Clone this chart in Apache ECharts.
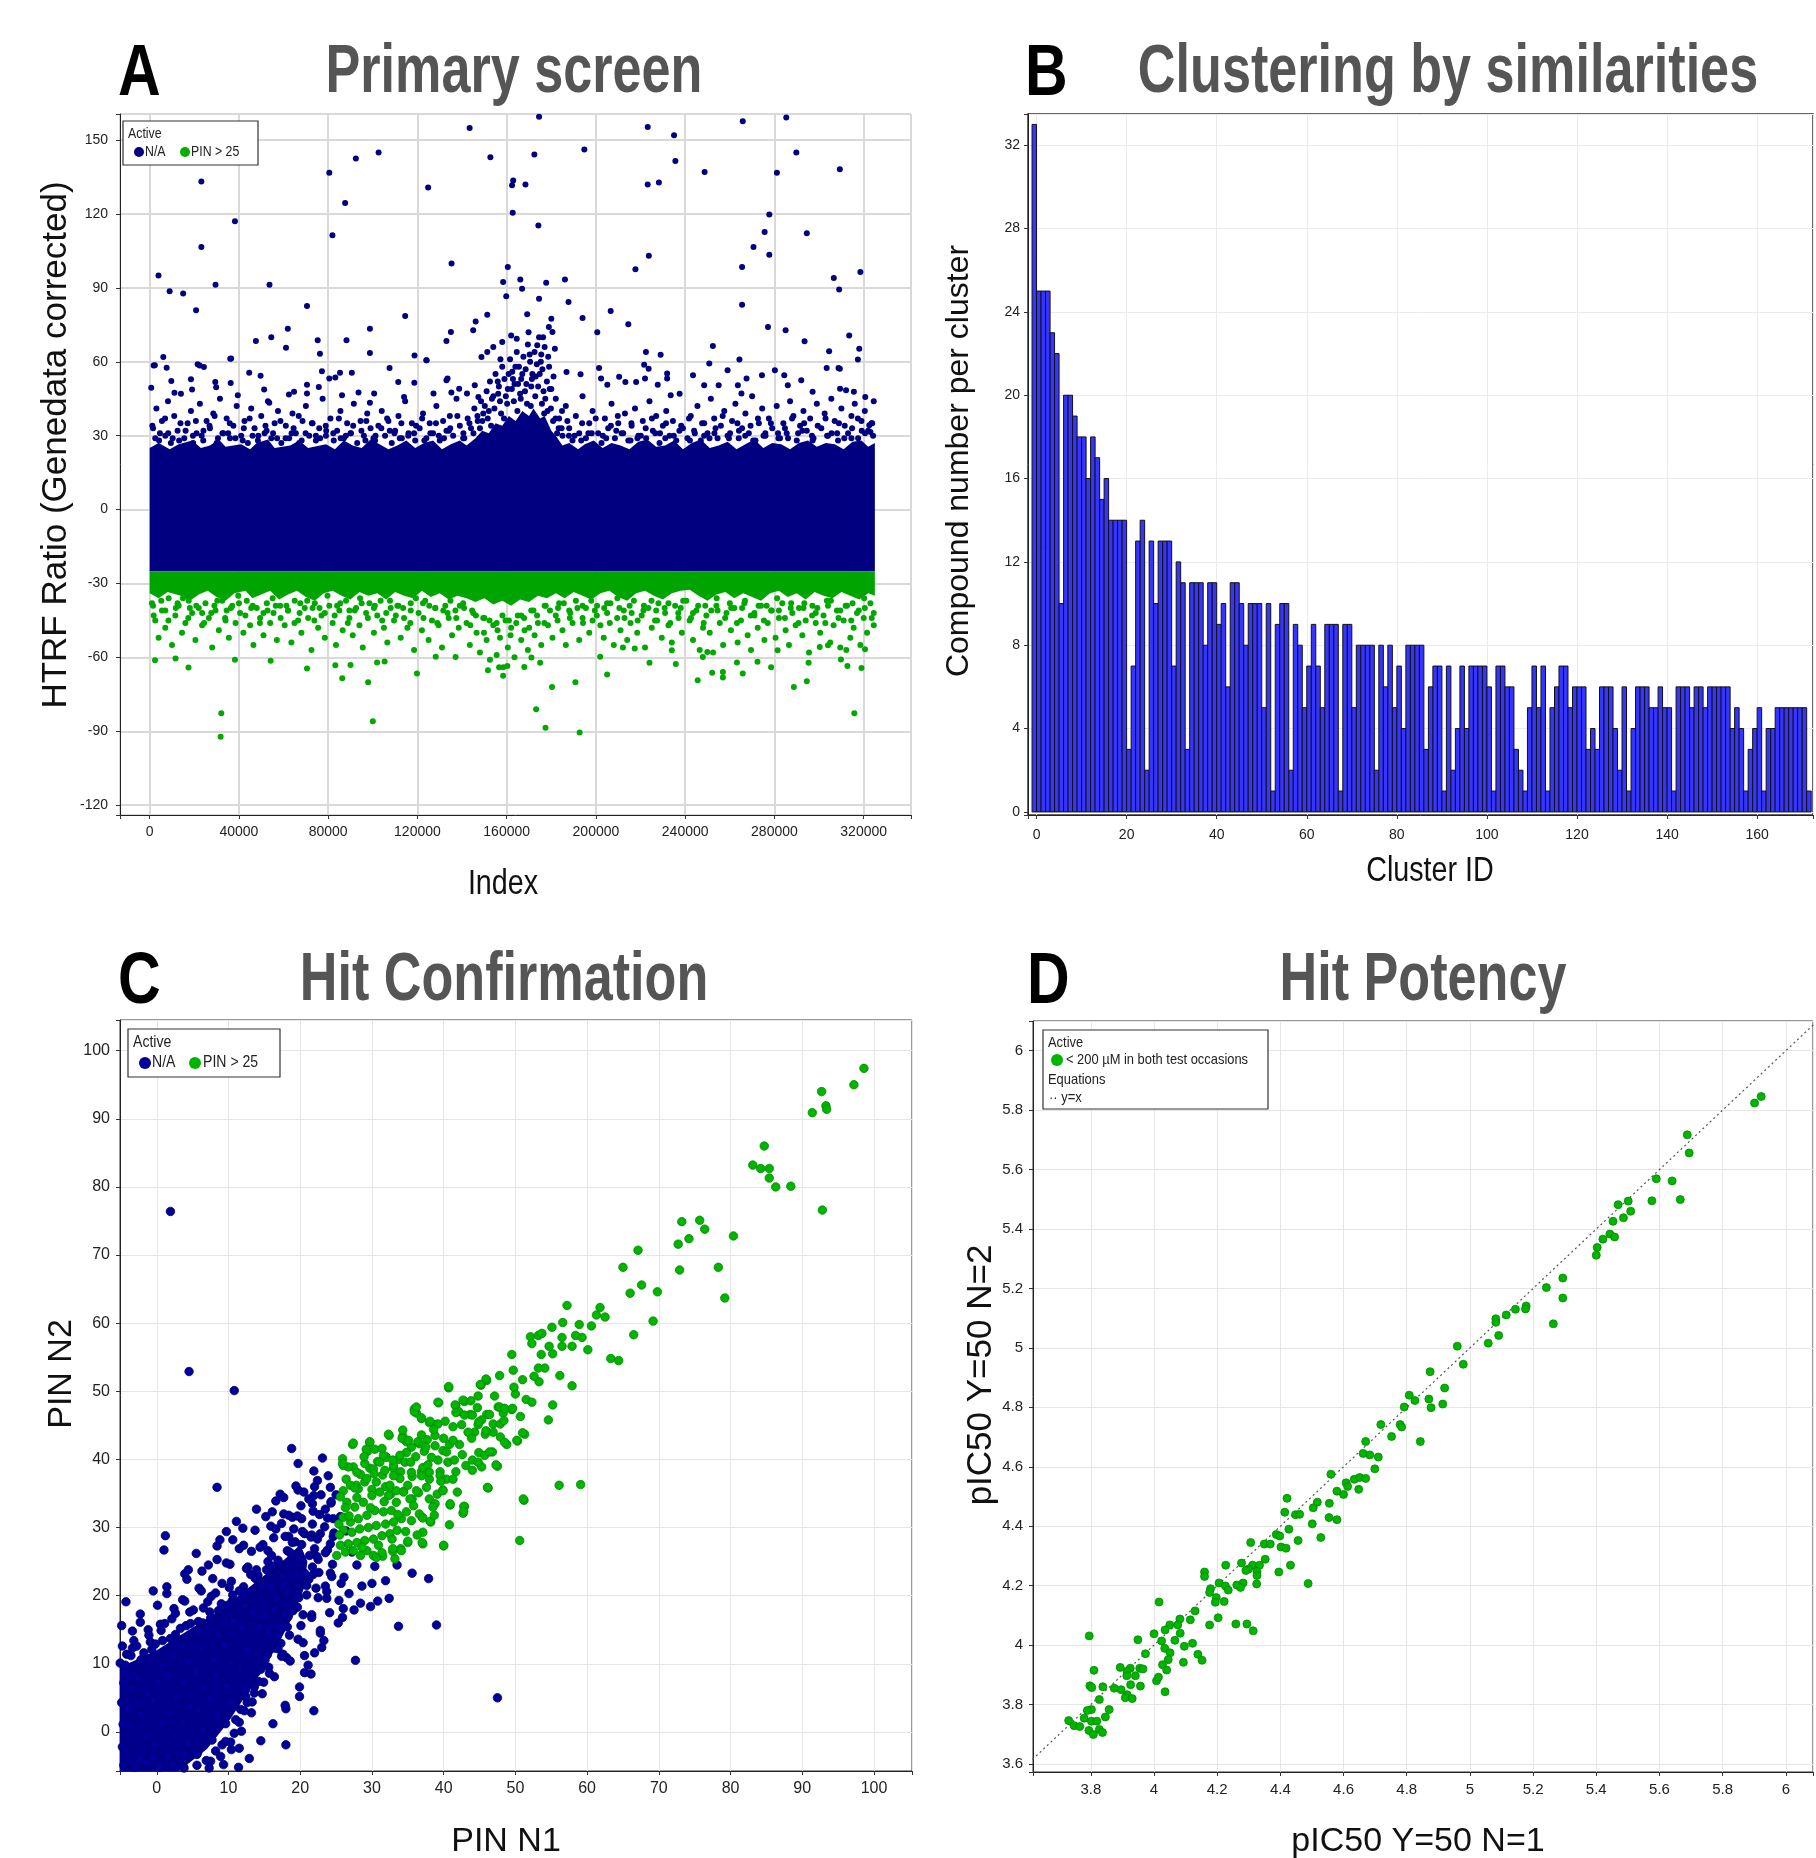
<!DOCTYPE html>
<html>
<head>
<meta charset="utf-8">
<script src="https://cdn.jsdelivr.net/npm/echarts@6/dist/echarts.min.js"></script>
<style>
  html, body { margin: 0; padding: 0; background: #fff; }
  #chart { width: 1816px; height: 1858px; }
</style>
</head>
<body>
<div id="chart"></div>
<script>
// ---------- A: primary screen ----------
const primaryXTicks = [0, 40000, 80000, 120000, 160000, 200000, 240000, 280000, 320000];
const primaryXLabels = ['0', '40000', '80000', '120000', '160000', '200000', '240000', '280000', '320000'];
const primaryYTicks = [-120, -90, -60, -30, 0, 30, 60, 90, 120, 150];
const primaryYLabels = ['-120', '-90', '-60', '-30', '0', '30', '60', '90', '120', '150'];
const primaryCut = -25; // PIN > 25 threshold on the ratio axis

// upper edge of the solid N/A band
const primaryNaEdge = [[0,25],[4000,27],[9000,24.5],[13000,26.5],[19000,28],[23000,25],[27000,26],[31000,28.5],[34000,25.5],[41000,26.5],[45000,24.5],[48000,27],[53000,28.5],[56000,25],[63000,26],[67000,28],[71000,25],[79000,26.5],[83000,24.5],[87000,28],[91000,26],[95000,25],[99000,28.5],[103000,26.5],[107000,24.5],[111000,26],[115000,28],[119000,25],[123000,27],[127000,28],[131000,24.5],[135000,26.5],[139000,28],[142000,26],[146000,29],[149000,32],[152000,31],[155000,35],[158000,34],[161000,38],[164000,36],[167000,40],[170000,38],[172000,41],[175000,37],[177000,38],[180000,32],[182000,30],[185000,26],[188000,27],[192000,24.5],[195000,26.5],[199000,28],[203000,25],[207000,27],[211000,26],[215000,24.5],[219000,27.5],[223000,28.5],[227000,25.5],[231000,26],[235000,28],[239000,24.5],[243000,27],[247000,28.5],[251000,25],[255000,26],[259000,27.5],[263000,24.5],[267000,26.5],[271000,28.5],[275000,25],[279000,27],[283000,26.5],[287000,24.5],[291000,27],[295000,28],[299000,25.5],[303000,27],[307000,26.5],[311000,24.5],[315000,27.5],[319000,28],[322000,25.5],[325000,27]];
// lower edge of the solid PIN > 25 band
const primaryPinEdge = [[0,-34],[4000,-36],[8000,-33.5],[14000,-35],[18000,-37],[22000,-34.5],[26000,-33],[30000,-35.5],[34000,-37],[38000,-34],[43000,-33],[46000,-36],[50000,-34.5],[54000,-33],[58000,-36.5],[62000,-34.5],[66000,-33],[70000,-35.5],[74000,-37],[78000,-34],[82000,-33],[86000,-35],[90000,-36.5],[94000,-33.5],[98000,-35],[102000,-34],[106000,-36.5],[110000,-33.5],[114000,-35],[118000,-36],[122000,-33],[126000,-35.5],[130000,-34],[134000,-36.5],[138000,-35],[142000,-36],[146000,-37.5],[150000,-36],[154000,-38.5],[158000,-37],[162000,-39],[166000,-36.5],[170000,-37.5],[174000,-35],[178000,-36],[182000,-34],[186000,-36],[190000,-33.5],[194000,-35],[198000,-36.5],[202000,-34],[206000,-33],[210000,-35.5],[214000,-37],[218000,-34],[222000,-33],[226000,-35],[230000,-36.5],[234000,-34],[238000,-33],[242000,-32.5],[246000,-35],[250000,-37],[254000,-34.5],[258000,-33.5],[262000,-36],[266000,-34],[270000,-35.5],[274000,-37],[278000,-34],[282000,-33],[286000,-35.5],[290000,-34],[294000,-36.5],[298000,-33.5],[302000,-35],[306000,-36],[310000,-33.5],[314000,-35],[318000,-36.5],[322000,-34],[325000,-35]];

const primaryNaPoints = [
  [3950,95],[8950,88.6],[15000,87.7],[20800,80.9],[23160,133.2],[23160,106.6],[29500,91.3],[38200,117.1],[53700,91.3],[70500,82.7],[80500,136.7],[81900,111.4],[87600,124.5],[92400,142.5],[102600,145],[114500,78.6],[124800,130.8],[135300,99.9],[143400,154.9],[152700,143],[160500,98.5],[162400,131.7],[162900,133.6],[162700,120.5],[168400,132],[172400,144.2],[174200,115.3],[174500,159.5],[194800,146.2],[186100,93.4],[223200,155.3],[223200,132],[228200,132.8],[223700,103.1],[217700,97.6],[235000,152],[235600,141.5],[248700,137.1],[265800,157.7],[265500,98.5],[265500,83.2],[270600,106.6],[275600,112.7],[277700,119.8],[277700,103.5],[281100,136.7],[285300,159.2],[289800,145],[294500,112.2],[309300,138.2],[306600,94],[309000,89.3],[318500,96.5],
  [206600,80.6],[214500,75.2],[200600,72],[194000,77.8],[187700,84.3],[277100,74.1],[285000,72.8],[313500,70.7],[293500,68.3],[304500,64.3],[318000,65.3],[309300,57.2],[252400,66.4],[229000,62.9],[135000,72.1],[133000,68.4],[98700,73.4],[98700,63.6],[88200,68.7],[75300,68.7],[61900,73.4],[61100,65.7],[54500,70],[47600,68.4],[76300,63.3],[118700,62.6],[124000,60.6],[36100,61.2],[6100,61.9],[1800,58.5],[22400,58.5],
  [146100,76.4],[145000,72.8],[151300,79.1],[159800,86.6],[166100,93.4],[158400,92.4],[166900,89.7],[169200,79.3],[174500,85.6],[177700,92.1],[180000,77.5],[178900,74.1],[180500,72.1],[158000,68],[162000,70.7],[164500,69.4],[169800,72],[173700,66.7],[176300,70],[181600,65.3],[151300,64],[154000,66],[148700,61.9],[221600,58.8],[222400,64],
  [2300,58.6],[7600,57.6],[700,49.5],[9700,52.2],[11100,47.4],[18500,52.9],[19000,48.7],[21500,59],[24300,57.9],[29400,51.8],[29800,49.7],[36500,61.3],[36300,51.4],[39500,46.4],[44600,55.5],[49700,54.3],[51300,48.7],[53600,43.4],[62400,46.7],[64700,47.8],[70500,50.7],[70500,47.1],[75800,49.8],[77200,56.2],[80500,53.2],[83200,53.6],[85300,55.5],[90600,55.5],[86200,46.4],[93600,47.5],[98700,43.4],[100600,47.1],[107500,57.5],[111400,51.8],[114000,45.7],[118600,51.5],[124100,60.6],[127200,47.1],[133000,52.5],[133500,53.2],[135200,47.5],[138700,49.1],[142200,47.1],[145700,50.5],[147300,45.7],[186800,55.9],[193100,54.9],[201400,57.5],[202300,53.2],[205100,50.7],[210400,53.9],[213200,51.8],[218000,51.8],[222000,53.2],[223600,57.2],[231900,55.2],[231900,53.2],[227700,50.7],[233500,46.4],[243500,54.5],[248500,50.5],[250800,59.3],[255000,50.5],[259000,56.6],[264300,60.9],[263600,50.5],[265200,47.1],[267500,53.2],[274400,54.5],[280200,56.6],[284400,54.5],[286000,50.5],[292000,52.5],[297100,47.8],[303400,57.5],[308700,57.5],[309400,49.1],[312100,48.4],[315600,47.8],[317400,60.9],[320700,45.7],[322500,34.2],[323000,31.5],
  [1500,33],[3000,41],[4200,28],[5500,36],[7000,30],[8200,44],[9500,27],[11000,38],[12500,32],[14000,47],[15500,29],[17000,35],[18500,40],[19500,27],
  [21000,31],[22500,43],[24000,28],[25500,36],[27000,33],[28500,39],[30000,27],[31500,45],[33000,31],[34500,37],[36000,29],[37500,34],[39000,42],
  [41000,30],[42500,36],[44000,27],[45500,41],[47000,33],[48500,28],[50000,38],[51500,31],[53000,44],[54500,29],[56000,35],[57500,40],[59000,27],
  [61000,34],[62500,29],[64000,39],[65500,31],[67000,27],[68500,36],[70000,42],[71500,30],[73000,35],[74500,28],[76000,33],[77500,45],[79000,30],
  [81000,37],[82500,28],[84000,32],[85500,40],[87000,29],[88500,35],[90000,31],[91500,43],[93000,27],[94500,36],[96000,30],[97500,39],[99000,33],
  [101000,28],[102500,34],[104000,40],[105500,30],[107000,36],[108500,27],[110000,32],[111500,38],[113000,29],[114500,44],[116000,31],[117500,35],[119000,28],
  [121000,33],[122500,39],[124000,29],[125500,35],[127000,31],[128500,42],[130000,28],[131500,36],[133000,32],[134500,38],[136000,30],[137500,45],[139000,34],
  [141000,29],[142500,37],[144000,33],[145500,41],[147000,36],[148500,44],[149500,39],
  [151000,48],[152500,52],[154000,46],[155000,55],[156500,50],[158000,58],[159000,53],[160500,49],[161500,61],[162500,56],[163500,51],[164500,64],[165500,58],[166500,53],[167500,62],[168500,57],[169500,67],[170500,60],[171500,55],[172500,64],[173500,59],[174500,70],[175500,63],[176000,57],[177000,66],[178000,52],[179000,58],[180000,49],[181000,54],[182000,45],[157000,44],[166000,47],[171000,50],[176500,48],
  [150200,42],[153400,45],[156200,47],[159600,46],[162300,49],[165100,51],[168200,48],[171300,53],[174100,50],[177300,45],[179800,41],[181900,37],[149100,36],[152000,40],[183300,33],[184800,40],[160900,55],[167000,55],[173000,54],[163900,58],[170300,63],[157200,61],[175300,60],[178600,62],
  [151500,37],[154500,41],[157500,39],[160200,43],[163200,44],[166300,45],[169100,43],[172800,46],[175800,43],[178300,40],[180800,36],[153000,34],[158800,37],[164800,40],[170800,42],[176800,39],[182600,31],[148000,33],[156000,52],[162800,53],[168800,51],[174800,55],[179300,49],
  [183500,37],[185000,30],[186500,42],[188000,33],[189500,28],[191000,38],[192500,31],[194000,46],[195500,29],[197000,35],[198500,40],
  [201000,31],[202500,27],[204000,37],[205500,33],[207000,43],[208500,29],[210000,35],[211500,31],[213000,39],[214500,28],[216000,34],[217500,41],[219000,30],
  [221000,36],[222500,29],[224000,44],[225500,32],[227000,38],[228500,27],[230000,34],[231500,40],[233000,30],[234500,36],[236000,28],[237500,47],[239000,33],
  [241000,29],[242500,38],[244000,32],[245500,42],[247000,28],[248500,35],[250000,31],[251500,45],[253000,37],[254500,29],[256000,34],[257500,40],[259000,30],
  [261000,36],[262500,43],[264000,29],[265500,33],[267000,39],[268500,31],[270000,46],[271500,28],[273000,35],[274500,41],[276000,30],[277500,37],[279000,33],
  [281000,42],[282500,29],[284000,35],[285500,31],[287000,44],[288500,38],[290000,28],[291500,34],[293000,40],[294500,32],[296000,37],[297500,29],[299000,43],
  [301000,33],[302500,39],[304000,30],[305500,45],[307000,36],[308500,28],[310000,41],[311500,34],[313000,31],[314500,38],[316000,43],[317500,29],[319000,36],[320500,40],[322000,32],[323500,35],[324500,44],
  [2500,29],[8300,31],[13200,28],[19400,30],[24100,32],[30600,29],[35200,31],[41700,28],[46100,30],[52400,32],[57100,29],[63600,31],[68100,28],[74500,30],[79100,32],[85600,29],[90200,31],[96700,28],[101200,30],[107600,32],[112100,29],[118500,31],[123100,28],[129600,30],[134100,32],[140500,29],[145100,31],[187900,30],[193400,28],[198100,31],[204600,29],[209100,32],[215500,28],[220100,30],[226600,31],[231100,29],[237400,32],[242100,28],[248500,30],[253100,31],[259600,29],[264100,32],[270500,28],[275100,30],[281600,31],[286100,29],[292500,32],[297100,28],[303600,30],[308100,31],[314500,29],[319100,32],[324200,30],
  [1200,34],[4600,31],[6900,37],[10300,29],[13800,35],[16100,32],[20700,36],[23300,30],[26800,34],[29100,38],[32600,31],[35900,35],[38400,29],[42200,33],[44800,37],[48700,30],[51900,34],[55300,31],[58600,36],[60900,29],[64500,33],[66800,38],[69900,31],[72700,35],[76400,29],[78900,34],[82300,31],[84800,37],[87900,30],[91200,34],[94900,32],[97100,36],[100300,29],[103800,33],[106400,37],[109700,31],[112800,35],[115900,30],[119400,34],[122100,37],[125800,31],[128300,35],[131900,29],[134700,33],[137900,38],[140600,31],[143300,35],[146900,38],[184600,33],[187200,36],[190400,30],[193800,35],[196600,31],[199900,37],[203100,30],[206700,34],[209800,38],[212200,31],[215900,35],[218600,29],[222300,33],[225100,37],[228700,31],[231400,35],[234900,30],[238200,34],[241700,37],[244300,31],[247600,35],[250900,29],[253600,33],[256800,38],[260100,31],[263400,35],[266900,30],[269300,34],[272600,37],[275900,31],[278400,35],[281800,29],[284700,33],[287900,37],[290600,31],[293300,35],[296800,30],[299400,34],[302900,37],[305600,31],[308900,35],[311300,29],[314800,33],[317400,37],[320600,31],[323800,35]
];

const primaryPinPoints = [
  [32100,-82.7],[31800,-92.2],[100000,-85.9],[173200,-81.1],[177400,-88.6],[192700,-90.5],[315800,-82.7],[180300,-72],[190800,-70.1],[288700,-72],[294500,-69.7],[245600,-69.3],[252100,-66.2],[256900,-68.2],[256900,-65.9],[265800,-66.6],[205000,-67],[224000,-62.2],[235800,-62.7],[278500,-64],[295300,-62.2],[312700,-63.5],[319000,-64.3],[309800,-60.9],[272400,-61.8],[263200,-62.1],[247900,-59.9],[201900,-59.8],[119800,-66.6],[86300,-68.5],[97900,-70.1],[70500,-64.5],[17400,-64.1],[54200,-61.4],[101900,-62.1],[105300,-61.7],[151600,-65.2],[158400,-67.5],[167900,-63.9],[175000,-62.2],[171100,-60.1],[156600,-64],[160300,-63.5],[83200,-63.2],[90000,-63.1],[38200,-61],[2400,-61.2],[11600,-60.5],[128200,-59.8],[137100,-59.9],[212100,-56],[217400,-56.4],[234000,-57.1],[249900,-57.8],[281400,-57.1],[300300,-55.8],[304000,-55.1],[320600,-56.7],[312200,-57],
  [1000,-38],[2500,-45],[4000,-52],[5500,-41],[7000,-48],[8500,-36],[10000,-55],[11500,-43],[13000,-39],[14500,-50],[16000,-46],[17500,-37],[19000,-42],
  [20500,-53],[22000,-40],[23500,-47],[25000,-38],[26500,-44],[28000,-56],[29500,-41],[31000,-49],[32500,-37],[34000,-45],[35500,-52],[37000,-39],[38500,-46],
  [40500,-42],[42000,-50],[43500,-37],[45000,-47],[46500,-55],[48000,-40],[49500,-44],[51000,-51],[52500,-38],[54000,-46],[55500,-42],[57000,-53],[58500,-39],
  [60500,-47],[62000,-41],[63500,-54],[65000,-37],[66500,-45],[68000,-50],[69500,-40],[71000,-44],[72500,-57],[74000,-38],[75500,-48],[77000,-43],[78500,-52],
  [80500,-39],[82000,-46],[83500,-55],[85000,-41],[86500,-49],[88000,-37],[89500,-44],[91000,-51],[92500,-40],[94000,-47],[95500,-56],[97000,-42],[98500,-38],
  [100500,-50],[102000,-43],[103500,-37],[105000,-48],[106500,-54],[108000,-40],[109500,-45],[111000,-39],[112500,-52],[114000,-44],[115500,-48],[117000,-38],[118500,-57],
  [120500,-42],[122000,-49],[123500,-37],[125000,-53],[126500,-45],[128000,-40],[129500,-47],[131000,-56],[132500,-39],[134000,-44],[135500,-51],[137000,-41],[138500,-48],
  [140500,-38],[142000,-46],[143500,-55],[145000,-42],[146500,-50],[148000,-58],[149500,-44],[151000,-53],[152500,-61],[154000,-47],[155500,-59],[157000,-52],[158500,-64],[159500,-45],
  [160500,-56],[162000,-48],[163500,-60],[165000,-43],[166500,-53],[168000,-49],[169500,-57],[171000,-41],[172500,-51],[174000,-46],[175500,-55],[177000,-39],[178500,-47],
  [180500,-52],[182000,-43],[183500,-38],[185000,-49],[186500,-55],[188000,-41],[189500,-46],[191000,-37],[192500,-53],[194000,-44],[195500,-40],[197000,-50],[198500,-45],
  [200500,-39],[202000,-47],[203500,-52],[205000,-42],[206500,-38],[208000,-55],[209500,-44],[211000,-49],[212500,-41],[214000,-53],[215500,-46],[217000,-37],[218500,-50],
  [220500,-43],[222000,-56],[223500,-40],[225000,-48],[226500,-45],[228000,-38],[229500,-52],[231000,-42],[232500,-47],[234000,-54],[235500,-39],[237000,-44],[238500,-50],
  [240500,-37],[242000,-45],[243500,-53],[245000,-41],[246500,-57],[248000,-48],[249500,-43],[251000,-50],[252500,-58],[254000,-39],[255500,-46],[257000,-55],[258500,-42],
  [260500,-49],[262000,-40],[263500,-54],[265000,-45],[266500,-38],[268000,-51],[269500,-57],[271000,-43],[272500,-48],[274000,-39],[275500,-53],[277000,-46],[278500,-41],
  [280500,-52],[282000,-44],[283500,-38],[285000,-49],[286500,-55],[288000,-42],[289500,-47],[291000,-40],[292500,-51],[294000,-45],[295500,-58],[297000,-39],[298500,-46],
  [300500,-50],[302000,-43],[303500,-37],[305000,-54],[306500,-47],[308000,-41],[309500,-56],[311000,-45],[312500,-39],[314000,-52],[315500,-48],[317000,-42],[318500,-55],[320000,-44],[321500,-50],[323000,-38],[324500,-47],
  [1500,-39],[7000,-41],[12500,-38],[18000,-40],[23500,-42],[29000,-39],[34500,-41],[40000,-38],[45500,-40],[51000,-42],[56500,-39],[62000,-41],[67500,-38],[73000,-40],[78500,-42],[84000,-39],[89500,-41],[95000,-38],[100500,-40],[106000,-42],[111500,-39],[117000,-41],[122500,-38],[128000,-40],[133500,-42],[139000,-39],[144500,-41],[150000,-44],[155500,-46],[161000,-45],[166500,-43],[172000,-41],[177500,-39],[183000,-40],[188500,-42],[194000,-39],[199500,-41],[205000,-38],[210500,-40],[216000,-42],[221500,-39],[227000,-41],[232500,-38],[238000,-40],[243500,-42],[249000,-39],[254500,-41],[260000,-38],[265500,-40],[271000,-42],[276500,-39],[282000,-41],[287500,-38],[293000,-40],[298500,-42],[304000,-39],[309500,-41],[315000,-38],[320500,-40],[324500,-42],
  [1800,-43],[5200,-37],[8400,-45],[11700,-40],[14900,-36],[17300,-44],[20900,-39],[24400,-46],[27600,-42],[30300,-37],[33800,-44],[36400,-40],[39700,-35],[42900,-43],[46200,-39],[49400,-46],[52800,-41],[55100,-36],[58700,-44],[61300,-39],[64900,-46],[67200,-42],[70600,-37],[73800,-45],[76100,-40],[79700,-35],[82900,-43],[85400,-38],[88800,-46],[91900,-41],[94300,-36],[97800,-44],[100900,-39],[104200,-45],[107700,-37],[110300,-43],[113600,-40],[116800,-46],[119300,-36],[122700,-44],[125300,-39],[128900,-46],[131600,-41],[134800,-37],[137400,-44],[140900,-40],[143700,-47],[146200,-43],[149800,-50],[152300,-45],[155900,-49],[158100,-43],[161700,-51],[164300,-46],[167800,-44],[170100,-48],[173600,-43],[176900,-46],[179400,-41],[182800,-45],[185600,-38],[188300,-44],[191700,-40],[194200,-46],[197900,-37],[200400,-43],[203700,-40],[206200,-46],[209600,-36],[212800,-44],[215100,-39],[218700,-45],[221300,-41],[224900,-37],[227400,-45],[230800,-40],[233300,-46],[236900,-42],[239100,-37],[242600,-44],[245800,-39],[248300,-46],[251700,-41],[254100,-36],[257900,-44],[260600,-40],[263200,-46],[266800,-37],[269400,-43],[272900,-39],[275300,-45],[278800,-41],[281200,-36],[284700,-44],[287300,-40],[290800,-46],[293400,-38],[296900,-43],[299200,-40],[302800,-46],[305300,-37],[308700,-44],[311900,-39],[314400,-45],[317800,-41],[320200,-36],[323600,-44]
];

// ---------- B: clustering ----------
const clusterXTicks = [0, 20, 40, 60, 80, 100, 120, 140, 160];
const clusterXLabels = ['0', '20', '40', '60', '80', '100', '120', '140', '160'];
const clusterYTicks = [0, 4, 8, 12, 16, 20, 24, 28, 32];
const clusterYLabels = ['0', '4', '8', '12', '16', '20', '24', '28', '32'];
const clusterCounts = [
  33,25,25,25,23,22,10,20,20,19,
  18,18,16,18,17,15,16,14,14,14,
  14,3,7,13,14,2,13,10,13,13,
  13,7,12,11,3,11,11,11,8,11,
  11,9,10,6,11,11,10,8,10,10,
  10,5,10,1,9,10,10,2,9,8,
  5,7,9,7,5,9,9,9,1,9,
  9,5,8,8,8,8,2,8,6,8,
  5,7,4,8,8,8,8,3,6,7,
  7,1,7,2,4,7,4,7,7,7,
  7,6,1,7,7,6,6,3,2,1,
  5,7,5,7,1,5,6,7,7,5,
  6,6,6,3,4,3,6,6,6,4,
  2,6,1,4,6,6,6,5,5,6,
  5,5,1,6,6,6,5,6,6,5,
  6,6,6,6,6,4,5,4,1,3,
  4,5,1,4,4,5,5,5,5,5,
  5,5,1
];

// ---------- C: hit confirmation ----------
const confirmTicks = [0, 10, 20, 30, 40, 50, 60, 70, 80, 90, 100];
const confirmLabels = ['0', '10', '20', '30', '40', '50', '60', '70', '80', '90', '100'];
const confirmNaCore = [[-5.2,-5.8],[3,-5.8],[7,-2.5],[10,1.5],[12.5,5.5],[15,9.5],[17,13],[19,17],[20.5,21],[21,25],[20,27.5],[18,25.5],[15,23],[12,20.5],[9,18],[6,16],[3,14],[0,12],[-3,10.5],[-5.2,9.5]];
const confirmNaPoints = [
  [1.9,76.4],[4.5,52.9],[10.8,50.1],[18.8,41.6],[19.7,39.4],[8.4,35.9],[17.2,34.9],[19.7,35.5],[22,36],[23.9,37.6],[24.2,35.9],[21.2,34.2],[21.7,33.5],[17.7,32],[15.2,31.6],[1.2,28.8],[1,26.7],[5.5,26.2],[-0.5,20.7],[-4.3,19.1],[3.9,23.2],[8.4,27.3],[9.7,29.4],[12,29.9],[15.9,30.2],[18.4,28.7],[27.9,24.5],[30.4,24.3],[33.5,24.5],[35.6,23.3],[37.9,22.5],[31.9,22.2],[32.4,19.6],[30.8,19.2],[29.8,18.4],[28.4,18.9],[27.5,17.9],[26,18.1],[25.9,16.8],[25.3,16],[33.7,15.5],[39,15.7],[27.7,10.5],[47.5,5],[21.9,3.1],[18,3.4],[19.9,5.2],[20.6,8.7],[21.5,8.5],[22,11.6],[23.3,13.4],[22.8,14.5],[20.6,11.2],[18.1,10.9],[17.3,13],[15.6,9.5],[14.2,7.4],[13.3,4.4],[12.6,4.3],[11.5,1.4],[10.3,-1.5],[9.1,-1.9],[11.5,-2.4],[18,-1.9],[7.5,-4.3],[5.7,-3],[-4.9,15.6],[-2.3,17.3],[-1.2,15],[2.4,18.1],[3.3,15.2],[6.4,16],[8.6,17.8],[10.5,19.2],[12,20.7],[13.8,22.5],[14.4,21.4],[16.2,24],[17.7,21.8],[19.9,25.4],[22,26.9],[22.8,29.1],[24.2,27.6],[24.6,31.3],[23.5,32.7],[21.7,30.5],[20.2,31.3],[19.1,29.8],[25.7,21.8],[26.8,20.3],[28.6,21.4],[30,21.8],[24.2,23.3],[23.5,21.4],[-2.7,4.3],[-5.1,10.1],[-3.4,12.3],[-4.1,7.9],[-4.5,1.4],[1.7,-4.4],[-0.5,-3.7],[3.9,-3.4],
  [12.5,24],[13.2,26.5],[14.1,23],[14.8,27.5],[15.5,25],[16.3,28.5],[17,24.8],[17.4,30.6],[18.2,26.6],[18.9,31.5],[19.3,27.9],[20.1,33.2],[20.6,29.1],[21.3,25.9],[21.8,32.4],[22.4,28.3],[22.9,34.8],[23.4,30.1],[23.8,26.7],[24.3,33.6],[24.7,29.2],[19.6,23.1],[20.9,21.5],[22.6,23.4],[23.7,20.6],[24.5,24.6],[18.1,20.2],[16.8,19.5],[15.2,17.1],[13.6,15.8],[17.2,15.3],[19,17.8],[21.6,17.2],[22.8,14.9],[20.4,13.1],[18.6,10.4],[16.4,8.1],[14.7,5.6],[13.2,2.8],[11.8,0.1],[10.4,-2.6],[9.3,-4.8],[11.5,26.9],[10.2,24.6],[9.1,21.8],[7.6,19.9],[6.2,20.7],[5.1,17.9],[3.6,19.4],[2.1,16.6],[0.6,14.9],[-0.9,13.2],[-2.8,12.6],[-4.2,11.4],[-3.4,14.8],[1.4,21.3],[4.4,23.8],[7.2,24.5],[8.8,28.2],[11.1,30.9],[13.9,32.7],[16.6,33.9],[19.4,36.1],[21.9,38.3],[23.1,40.2],[25,34.8],[25.6,31.6],[26.4,29.5],[27.2,26.4],[26.1,22.7],[25.4,19.3],[24.1,17.5],[23,12.4],[21.1,9.8],[19.9,6.6],[17.9,3.9],[16.2,1.2],[14.5,-1.3],[12.9,-3.9],[11.4,-5.2],
  [-4.6,-4.9],[-3.1,-5.2],[-1.4,-4.6],[0.3,-5.1],[2.2,-4.8],[3.8,-5.3],[5.6,-4.9],[6.9,-4.2],[8.2,-2.8],[-4.8,-2.2],[-4.7,1.1],[-4.9,4.3],[-4.6,7.2],[-4.4,9.8],[-3.6,11.2],[-2.2,10.6],[-0.7,12.1],[0.8,13.4],[2.6,14.3],[4.1,15.6],[5.8,16.2],[7.4,17.6],[9,18.8],[10.6,20.1],[12.1,21.3],[13.7,22.6],[15.3,23.8],[16.9,25.2],[18.5,26.4],[20.2,27.5],[21.6,28.9],[9.6,-1.4],[11,1.8],[12.4,5.2],[13.9,8.8],[15.4,11.3],[16.8,14.1],[18.3,16.9],[19.8,19.7],[21.2,22.4],[22.5,25.3],
  [-4.3,-2.6],[-3.7,0.8],[-4.1,3.4],[-3.5,6.3],[-4.4,8.7],[-3.2,13.4],[-2.4,-4.1],[-1.6,-0.7],[-2.2,2.5],[-1.4,5.6],[-2.6,7.9],[-1.8,11.6],[-2.3,16.1],[0.4,-5.2],[-0.3,-1.8],[0.7,1.3],[-0.5,4.6],[0.2,7.4],[0.9,9.8],[-0.2,12.9],[0.5,15.8],[0.1,18.6],
  [1.6,-3.7],[2.5,-0.6],[1.8,2.7],[2.7,5.1],[1.5,8.3],[2.3,11.2],[1.9,13.7],[2.6,17.4],[1.4,20.3],[3.7,-5.1],[4.4,-1.8],[3.6,1.4],[4.6,3.7],[3.8,7.2],[4.3,10.4],[3.5,12.6],[4.7,15.9],[3.9,19.2],[4.2,22.4],
  [5.6,-3.3],[6.4,0.3],[5.8,3.1],[6.6,6.4],[5.5,8.8],[6.2,12.3],[5.7,14.6],[6.5,18.2],[5.9,21.1],[6.3,23.6],[7.7,-1.2],[8.5,2.4],[7.6,4.8],[8.3,8.3],[7.9,10.6],[8.6,14.2],[7.5,16.7],[8.2,20.4],[7.8,22.5],[8.4,25.3],
  [9.6,1.2],[10.5,4.4],[9.8,6.7],[10.3,10.2],[9.5,12.8],[10.7,16.3],[9.9,18.6],[10.4,22.1],[9.7,24.8],[10.6,28.2],[11.7,3.3],[12.4,6.2],[11.6,9.4],[12.6,12.1],[11.8,15.3],[12.3,18.4],[11.5,20.7],[12.7,24.2],[12.1,27.4],
  [13.6,5.7],[14.5,9.2],[13.8,11.6],[14.3,15.4],[13.5,17.7],[14.6,21.3],[13.9,23.8],[14.4,27.1],[13.7,29.6],[15.7,8.6],[16.4,12.3],[15.6,14.7],[16.5,18.1],[15.8,21.4],[16.2,24.3],[15.5,26.6],[16.6,29.8],[16.1,32.3],
  [17.6,11.4],[18.5,14.2],[17.8,17.3],[18.3,20.6],[17.5,22.8],[18.7,26.2],[17.9,28.7],[18.4,31.8],[17.7,34.4],[19.7,13.6],[20.4,17.2],[19.5,19.8],[20.6,23.3],[19.8,26.1],[20.3,29.4],[19.6,31.7],[20.5,35.2],
  [21.6,16.8],[22.5,19.7],[21.8,23.1],[22.3,25.8],[21.5,28.6],[22.7,31.9],[21.9,34.7],[22.4,36.9],[23.7,19.6],[24.4,22.8],[23.5,26.3],[24.6,28.7],[23.8,31.4],[24.3,33.8],
  [8.9,-3.6],[10.8,-0.2],[12.2,3.1],[13.6,6.6],[15.1,10.6],[16.9,12.2],[18.2,15.4],[19.6,18.3],[20.9,20.1],[21.7,24.2],[7.3,-5.3],[14.9,7.3],[17.4,11.1],[20.1,15.6],[22.2,21.1],[-4.8,12.6],[-1.1,14.2],[1.1,15.9],[4.6,17.6],[7.1,19.1],[10.1,21.2],[13.1,23.1],[16,25.9],[18.9,27.8]
];
const confirmPinPoints = [
  [98.6,97.4],[97.2,95],[92.7,94],[91.4,90.9],[93.3,91.9],[93.4,91.4],[84.7,86],[83.1,83.2],[84.2,82.7],[85.4,82.7],[85.4,81.3],[86.3,80],[88.4,80.1],[92.8,76.6],[73.2,74.9],[75.7,75.1],[76.4,73.8],[74.2,72.4],[72.7,71.6],[80.4,72.8],[67.1,70.7],[65,68.2],[72.9,67.8],[78.3,68.2],[67.6,65.6],[66,64.4],[69.8,64.6],[79.2,63.7],[69.2,60.3],[66.5,58.3],[57.2,62.6],[61.3,61.2],[62.5,60.9],[60.6,59.6],[56.6,60.1],[55.1,59.4],[52.1,58],[53.2,58.2],[53.7,58.5],[52.3,57],[56.5,57.9],[58.4,58.2],[59.3,57.9],[57.9,56.6],[56.5,56.6],[55.2,55.5],[53.6,55.4],[49.5,55.4],[63.3,54.8],[64.4,54.5],[53.2,53.4],[54.1,53.4],[53.3,51.4],[57.9,50.8],[49.7,53.1],[47.8,52.3],[46,51.6],[45.2,50.9],[40.7,50.5],[51,51.7],[50,49.6],[51.5,48.8],[52.3,48.4],[49.5,47.3],[55.2,48],[54.6,45.8],[47.6,47.7],[46,46.6],[48.3,46.8],[42.9,48.5],[41.7,47.9],[42.1,47],[39.3,48.3],[43.7,46.6],[45.3,45.8],[46.9,45.2],[44.8,45.1],[44.3,44],[45.8,43.7],[47.9,43.3],[48.8,42.2],[50.3,42.7],[51.3,43.7],[42.5,45.1],[41.3,44.8],[43.4,44],[35.9,47.4],[36.2,46.8],[36.9,46],[38,45.4],[38.8,45.1],[32.4,43.5],[34.3,43.4],[34.8,42.6],[35.5,41.8],[36.6,42.3],[37.7,42.9],[38.8,43.5],[40,43.1],[40.8,42.2],[42.2,42.2],[38.8,42],[39.9,41.3],[37.3,41.2],[36.1,40.4],[34.8,41],[33.7,40],[31.9,40.4],[30.8,39.7],[29.7,42.5],[27.3,42.2],[29.4,41.2],[25.9,40.1],[27.4,38.9],[28.4,37.8],[29.7,38.7],[31.5,37.7],[33,38.7],[34,38.2],[35.6,37.5],[36.9,38.2],[38,37.1],[39.5,38.2],[40.4,37.1],[41.3,37.1],[41.7,38.2],[43.1,39.1],[44,39.9],[45.3,38.9],[44.9,41],[46.8,41.1],[47.5,39],[46.2,35.8],[26.4,37.1],[27.8,36.2],[29,36.7],[30,35.6],[31.9,36],[32.6,34.9],[34.4,35.3],[35.6,34.2],[36.5,35.1],[38,34.2],[39.1,34.9],[39.9,35.5],[38.8,33.5],[38.2,30.8],[40,27.3],[40.9,33.3],[42.9,33.1],[42.7,32.1],[37,31.5],[37.1,27.6],[35,27.8],[34,26.9],[32.9,26.5],[31.5,25.8],[56.1,36.2],[59.1,36.3],[51.2,34],[50.6,28.1],
  [27.4,42.4],[29.7,42.6],[32.3,43.7],[34.2,43.1],[35.9,47],[36.2,47.7],[36.9,46.1],[38.1,45.6],[39.2,45.2],[40.7,50.7],[39.2,48.4],[41.6,48],[42.7,48.7],[43.8,48.6],[44.8,49.3],[45.9,51.8],[45.1,51],[41.7,46.9],[42.9,46.5],[44,46.5],[44.9,45.5],[46.4,46.6],[47.8,47.7],[48.5,47.5],[49.6,47.5],[47.9,45.2],[46.9,44],[48.5,42.5],[47.3,39.2],[50.2,42.8],[51,43.9],[51.1,34.2],[46.1,35.9],[44,38.4],[44.8,39.6],[45.7,40.6],[46.4,41.1],[42.8,33.1],[42.8,32.4],[40,27.4],[40.9,33.5],[39.9,35.4],[39.5,37.6],[40.6,39.6],[41.5,39.9],[40.4,41.1],[39.2,39.9],[38.3,40.3],[37.5,41.8],[36.4,42.6],[35.1,42.8],[37.1,38.8],[38,38.1],[36.9,37.6],[35.5,38.1],[34.6,39.6],[33.9,40.6],[33,39.1],[32,40.3],[31.1,39.6],[30.2,38.6],[29,39.4],[27.9,38.1],[26.7,38.9],[26,39.1],[25.9,39.4],[29.2,41.5],[30.4,41.5],[31.6,40.6],[31.8,38.4],[30.6,36.7],[29.3,37.2],[28.1,35.7],[27,36.2],[26,35.4],[25.6,34.5],[26.5,33.7],[27.6,33],[28.8,33.7],[30,34.7],[31.1,35.2],[32.5,36.2],[33.4,35.4],[34.4,35.2],[35.3,34.2],[36.2,35.4],[35,36.2],[33.9,37.2],[33,37.6],[32.3,34.7],[33.4,33.7],[32.7,32.5],[31.6,32.3],[30.4,32.5],[29.3,31.8],[28.1,31.3],[27,30.8],[26,31.5],[25.4,30.5],[26,29.6],[27.2,29.3],[28.3,29.8],[29.5,30],[30.6,30.3],[31.9,30.5],[33,30.8],[34.1,31.3],[34.8,32.3],[35.5,31],[33.5,29.6],[32.5,29.1],[31.4,28.8],[30.2,28.3],[29,28.1],[27.9,27.8],[26.7,27.6],[25.6,27.4],[25.1,25.9],[26.3,26.4],[27.4,26.6],[28.4,25.9],[29.3,26.6],[30.2,25.9],[30.6,25.6],[31.4,26.3],[32.9,26.9],[33.2,25.4],[34.1,26.6],[35,28],[37.1,29.3],[37,27.8],[38.1,30.9],[36.6,32],[38.5,33],[37.1,31.4],
  [25.5,28.9],[26.8,31.7],[27.9,34.4],[28.6,27.1],[29.8,32.9],[30.9,27.4],[31.7,33.8],[32.8,28.3],[33.6,31.9],[34.7,29.4],[35.8,33.2],[36.3,28.9],[37.6,35.9],[38.7,31.8],[39.6,36.8],[40.8,30.4],[41.9,35.2],[26.3,32.9],[27.6,35.8],[28.9,40.4],[30.3,37.9],[31.4,41.6],[32.9,39.9],[34.3,44.3],[35.4,39.6],[36.9,43.6],[37.8,39.2],[38.6,44.4],[40.2,45.6],[41.3,42.8],[42.6,40.7],[43.9,43.1],[44.7,47.6],[45.9,44.2],[47.1,49.3],[48.4,45.7],[49.8,50.6],[50.7,46.3],[52.6,52.2],[54.7,56.6],[56.2,52.3],[58.9,59.8],[60.1,56.1],[61.8,62.3]
];

// ---------- D: hit potency ----------
const potencyXTicks = [3.8, 4, 4.2, 4.4, 4.6, 4.8, 5, 5.2, 5.4, 5.6, 5.8, 6];
const potencyXLabels = ['3.8', '4', '4.2', '4.4', '4.6', '4.8', '5', '5.2', '5.4', '5.6', '5.8', '6'];
const potencyYTicks = [3.6, 3.8, 4, 4.2, 4.4, 4.6, 4.8, 5, 5.2, 5.4, 5.6, 5.8, 6];
const potencyYLabels = ['3.6', '3.8', '4', '4.2', '4.4', '4.6', '4.8', '5', '5.2', '5.4', '5.6', '5.8', '6'];
const identityLine = [[3.5, 3.5], [6.2, 6.2]];
const potencyPoints = [
  [5.922,5.846],[5.901,5.824],[5.688,5.717],[5.694,5.656],[5.59,5.569],[5.64,5.562],[5.576,5.495],[5.666,5.499],[5.501,5.494],[5.469,5.482],[5.509,5.46],[5.486,5.438],[5.453,5.426],[5.443,5.383],[5.421,5.366],[5.458,5.373],[5.403,5.338],[5.4,5.312],[5.294,5.235],[5.242,5.203],[5.294,5.168],[5.264,5.081],[5.178,5.141],[5.176,5.131],[5.144,5.13],[5.115,5.111],[5.082,5.098],[5.082,5.086],[5.091,5.042],[5.058,5.016],[4.96,5.006],[4.979,4.945],[4.874,4.92],[4.92,4.865],[4.808,4.841],[4.826,4.823],[4.87,4.828],[4.792,4.801],[4.877,4.799],[4.914,4.811],[4.718,4.742],[4.779,4.742],[4.784,4.734],[4.752,4.702],[4.843,4.685],[4.67,4.685],[4.662,4.645],[4.683,4.64],[4.71,4.633],[4.699,4.593],[4.56,4.575],[4.634,4.558],[4.651,4.564],[4.67,4.561],[4.608,4.546],[4.613,4.534],[4.579,4.518],[4.6,4.507],[4.648,4.524],[4.421,4.494],[4.517,4.481],[4.504,4.462],[4.555,4.477],[4.414,4.447],[4.448,4.439],[4.461,4.44],[4.554,4.429],[4.579,4.422],[4.501,4.408],[4.427,4.39],[4.387,4.372],[4.398,4.367],[4.456,4.352],[4.528,4.362],[4.306,4.345],[4.349,4.34],[4.368,4.34],[4.402,4.33],[4.418,4.326],[4.352,4.289],[4.277,4.276],[4.227,4.269],[4.312,4.269],[4.334,4.269],[4.432,4.269],[4.299,4.256],[4.291,4.251],[4.326,4.248],[4.395,4.246],[4.16,4.246],[4.16,4.231],[4.326,4.234],[4.488,4.207],[4.206,4.209],[4.226,4.199],[4.282,4.209],[4.262,4.202],[4.325,4.206],[4.274,4.194],[4.179,4.19],[4.235,4.185],[4.176,4.177],[4.197,4.16],[4.194,4.144],[4.222,4.147],[4.13,4.115],[4.115,4.085],[4.203,4.092],[4.176,4.068],[4.016,4.145],[4.259,4.071],[4.294,4.071],[4.314,4.048],[4.082,4.088],[4.05,4.068],[4.035,4.051],[4.075,4.068],[4,4.038],[4.083,4.04],[3.949,4.018],[4.024,4.014],[4.066,4.016],[4.122,4.006],[4.034,3.989],[4.096,3.996],[4.051,3.974],[4.045,3.951],[4.139,3.969],[4.152,3.949],[4.093,3.942],[4.027,3.934],[4.04,3.916],[3.973,3.971],[3.955,3.922],[3.965,3.92],[3.925,3.922],[3.893,3.925],[3.915,3.912],[3.914,3.897],[3.941,3.897],[3.926,3.867],[3.957,3.862],[4.008,3.88],[4.014,3.892],[4.035,3.843],[3.81,3.915],[3.797,3.863],[3.803,3.857],[3.838,3.86],[3.874,3.855],[3.896,3.85],[3.915,3.833],[3.909,3.823],[3.931,3.82],[3.827,3.817],[3.858,3.783],[3.846,3.758],[3.802,3.783],[3.789,3.78],[3.779,3.754],[3.73,3.746],[3.747,3.729],[3.765,3.726],[3.802,3.744],[3.819,3.744],[3.794,3.713],[3.808,3.699],[3.827,3.716],[3.837,3.706],[3.795,4.031]
];

// ---------- styling ----------
const SANS = "'Liberation Sans',Arial,Helvetica,sans-serif";
const NAVY = '#000080';
const PIN_GREEN = '#00a400';

function labelFrom(ticks, labels) {
  return function (v) {
    for (let i = 0; i < ticks.length; i++) {
      if (Math.abs(v - ticks[i]) < 1e-6 * Math.max(1, Math.abs(ticks[i]))) return labels[i];
    }
    return '';
  };
}

function valueAxis(o) {
  return {
    type: 'value', gridIndex: o.grid, min: o.min, max: o.max,
    minInterval: o.step, maxInterval: o.step,
    axisLine: { show: true, onZero: false, lineStyle: { color: '#222', width: 1 } },
    axisTick: { show: true, length: 4, lineStyle: { color: '#333' } },
    axisLabel: {
      formatter: labelFrom(o.ticks, o.labels), fontFamily: SANS,
      fontSize: o.labelSize, color: '#222', margin: o.margin
    },
    splitLine: { show: true, lineStyle: { color: o.gridColor, width: o.gridWidth } }
  };
}

function bandSeries(axis, edge, base, color) {
  return {
    type: 'custom', xAxisIndex: axis, yAxisIndex: axis, clip: true, silent: true, z: 2,
    data: [[edge[0][0], base]],
    renderItem: function (params, api) {
      const pts = [[edge[0][0], base]].concat(edge, [[edge[edge.length - 1][0], base]]);
      return { type: 'polygon', shape: { points: pts.map(p => api.coord(p)) }, style: { fill: color } };
    }
  };
}

function scatter(axis, data, size, fill, stroke) {
  return {
    type: 'scatter', xAxisIndex: axis, yAxisIndex: axis, data: data, symbolSize: size, z: 3,
    silent: true, itemStyle: { color: fill, borderColor: stroke, borderWidth: stroke ? 0.8 : 0, opacity: 1 }
  };
}

// free text placed in pixels; sx squeezes the glyphs to imitate a narrow face
function label(x, y, text, size, opts) {
  opts = opts || {};
  return {
    type: 'text', x: x, y: y, z: 101, rotation: opts.rot || 0, scaleX: opts.sx || 1,
    style: {
      text: text, font: (opts.bold ? 'bold ' : '') + size + 'px ' + SANS,
      fill: opts.color || '#111', textAlign: opts.align || 'left', textVerticalAlign: 'middle'
    }
  };
}
function dot(cx, cy, r, color) {
  return { type: 'circle', z: 101, shape: { cx: cx, cy: cy, r: r }, style: { fill: color } };
}
function box(x, y, w, h) {
  return { type: 'rect', z: 100, shape: { x: x, y: y, width: w, height: h }, style: { fill: '#fff', stroke: '#333', lineWidth: 1.2 } };
}

const chart = echarts.init(document.getElementById('chart'), null, { renderer: 'canvas' });

chart.setOption({
  animation: false,
  backgroundColor: '#fff',
  grid: [
    { left: 120, top: 114, width: 791, height: 701, show: true, borderColor: '#333', borderWidth: 1, backgroundColor: '#fff' },
    { left: 1028, top: 114, width: 790, height: 701, show: true, borderColor: '#333', borderWidth: 1.5, backgroundColor: '#fff' },
    { left: 120, top: 1020, width: 792, height: 751, show: true, borderColor: '#333', borderWidth: 1, backgroundColor: '#fff' },
    { left: 1033, top: 1021, width: 785, height: 751, show: true, borderColor: '#333', borderWidth: 1, backgroundColor: '#fff' }
  ],
  xAxis: [
    valueAxis({ grid: 0, min: -13300, max: 341200, step: 40000, ticks: primaryXTicks, labels: primaryXLabels, labelSize: 14, margin: 10, gridColor: '#d9d9d9', gridWidth: 2 }),
    valueAxis({ grid: 1, min: -1.9, max: 172.4, step: 20, ticks: clusterXTicks, labels: clusterXLabels, labelSize: 14, margin: 13, gridColor: '#ebebeb', gridWidth: 1 }),
    valueAxis({ grid: 2, min: -5.13, max: 105.3, step: 10, ticks: confirmTicks, labels: confirmLabels, labelSize: 16, margin: 10, gridColor: '#e6e6e6', gridWidth: 1 }),
    valueAxis({ grid: 3, min: 3.617, max: 6.086, step: 0.2, ticks: potencyXTicks, labels: potencyXLabels, labelSize: 15, margin: 10, gridColor: '#e6e6e6', gridWidth: 1 })
  ],
  yAxis: [
    valueAxis({ grid: 0, min: -124, max: 160.6, step: 30, ticks: primaryYTicks, labels: primaryYLabels, labelSize: 14, margin: 12, gridColor: '#d9d9d9', gridWidth: 2 }),
    valueAxis({ grid: 1, min: -0.15, max: 33.5, step: 4, ticks: clusterYTicks, labels: clusterYLabels, labelSize: 14, margin: 8, gridColor: '#ebebeb', gridWidth: 1 }),
    valueAxis({ grid: 2, min: -5.74, max: 104.5, step: 10, ticks: confirmTicks, labels: confirmLabels, labelSize: 16, margin: 10, gridColor: '#e6e6e6', gridWidth: 1 }),
    valueAxis({ grid: 3, min: 3.573, max: 6.1, step: 0.2, ticks: potencyYTicks, labels: potencyYLabels, labelSize: 15, margin: 10, gridColor: '#e6e6e6', gridWidth: 1 })
  ],
  series: [
    bandSeries(0, primaryNaEdge, primaryCut, NAVY),
    bandSeries(0, primaryPinEdge, primaryCut, PIN_GREEN),
    scatter(0, primaryNaPoints, 6, NAVY, null),
    scatter(0, primaryPinPoints, 6, '#00a800', null),
    {
      type: 'custom', xAxisIndex: 1, yAxisIndex: 1, clip: true, silent: true, z: 2,
      data: clusterCounts.map((n, id) => [id, n]),
      renderItem: function (params, api) {
        const top = api.coord([api.value(0) - 1, api.value(1)]);
        const bottom = api.coord([api.value(0), 0]);
        return {
          type: 'rect',
          shape: { x: top[0], y: top[1], width: bottom[0] - top[0], height: bottom[1] - top[1] },
          style: { fill: '#3535ff', stroke: '#111', lineWidth: 1 }
        };
      }
    },
    {
      type: 'custom', xAxisIndex: 2, yAxisIndex: 2, clip: true, silent: true, z: 2,
      data: [confirmNaCore[0]],
      renderItem: function (params, api) {
        return { type: 'polygon', shape: { points: confirmNaCore.map(p => api.coord(p)) }, style: { fill: '#00008c' } };
      }
    },
    scatter(2, confirmNaPoints, 8.5, '#00009a', '#00006a'),
    scatter(2, confirmPinPoints, 8.5, '#00b400', '#008a00'),
    {
      type: 'line', xAxisIndex: 3, yAxisIndex: 3, data: identityLine, symbol: 'none', silent: true, z: 2,
      lineStyle: { color: '#555', width: 1.2, type: [2, 3] }
    },
    scatter(3, potencyPoints, 8, '#00b400', '#008a00')
  ],
  graphic: [
    // panel letters and titles
    label(118, 75, 'A', 72, { bold: true, sx: 0.82, color: '#000' }),
    label(514, 73, 'Primary screen', 68, { bold: true, sx: 0.767, color: '#555', align: 'center' }),
    label(1025, 75, 'B', 72, { bold: true, sx: 0.82, color: '#000' }),
    label(1448, 73, 'Clustering by similarities', 68, { bold: true, sx: 0.767, color: '#555', align: 'center' }),
    label(118, 983, 'C', 72, { bold: true, sx: 0.82, color: '#000' }),
    label(504, 981, 'Hit Confirmation', 68, { bold: true, sx: 0.767, color: '#555', align: 'center' }),
    label(1027, 983, 'D', 72, { bold: true, sx: 0.82, color: '#000' }),
    label(1423, 981, 'Hit Potency', 68, { bold: true, sx: 0.767, color: '#555', align: 'center' }),

    // axis names
    label(56, 445, 'HTRF Ratio (Genedata corrected)', 35, { rot: Math.PI / 2, align: 'center' }),
    label(503, 884, 'Index', 35, { sx: 0.82, align: 'center' }),
    label(959, 461, 'Compound number per cluster', 32, { rot: Math.PI / 2, align: 'center' }),
    label(1430, 871, 'Cluster ID', 35, { sx: 0.82, align: 'center' }),
    label(62, 1374, 'PIN N2', 34, { rot: Math.PI / 2, align: 'center' }),
    label(506, 1842, 'PIN N1', 34, { align: 'center' }),
    label(981, 1375, 'pIC50 Y=50 N=2', 35, { rot: Math.PI / 2, align: 'center' }),
    label(1418, 1842, 'pIC50 Y=50 N=1', 34, { align: 'center' }),

    // legend A
    box(123, 121, 135, 44),
    label(128, 134, 'Active', 14, { sx: 0.88, color: '#222' }),
    dot(139, 152, 5, NAVY),
    label(145, 152, 'N/A', 14, { sx: 0.88, color: '#222' }),
    dot(185, 152, 5, '#00b000'),
    label(191, 152, 'PIN > 25', 14, { sx: 0.88, color: '#222' }),

    // legend C
    box(128, 1029, 152, 48),
    label(133, 1043, 'Active', 16, { sx: 0.88, color: '#222' }),
    dot(145, 1063, 6, '#00009a'),
    label(152, 1063, 'N/A', 16, { sx: 0.88, color: '#222' }),
    dot(195, 1063, 6, '#00b400'),
    label(203, 1063, 'PIN > 25', 16, { sx: 0.88, color: '#222' }),

    // legend D
    box(1043, 1030, 225, 79),
    label(1048, 1043, 'Active', 15, { sx: 0.86, color: '#222' }),
    dot(1057, 1060, 6, '#00b400'),
    label(1066, 1060, '< 200 µM in both test occasions', 15, { sx: 0.86, color: '#222' }),
    label(1048, 1080, 'Equations', 15, { sx: 0.86, color: '#222' }),
    label(1049, 1098, '·· y=x', 15, { sx: 0.86, color: '#222' })
  ]
});
</script>
</body>
</html>
